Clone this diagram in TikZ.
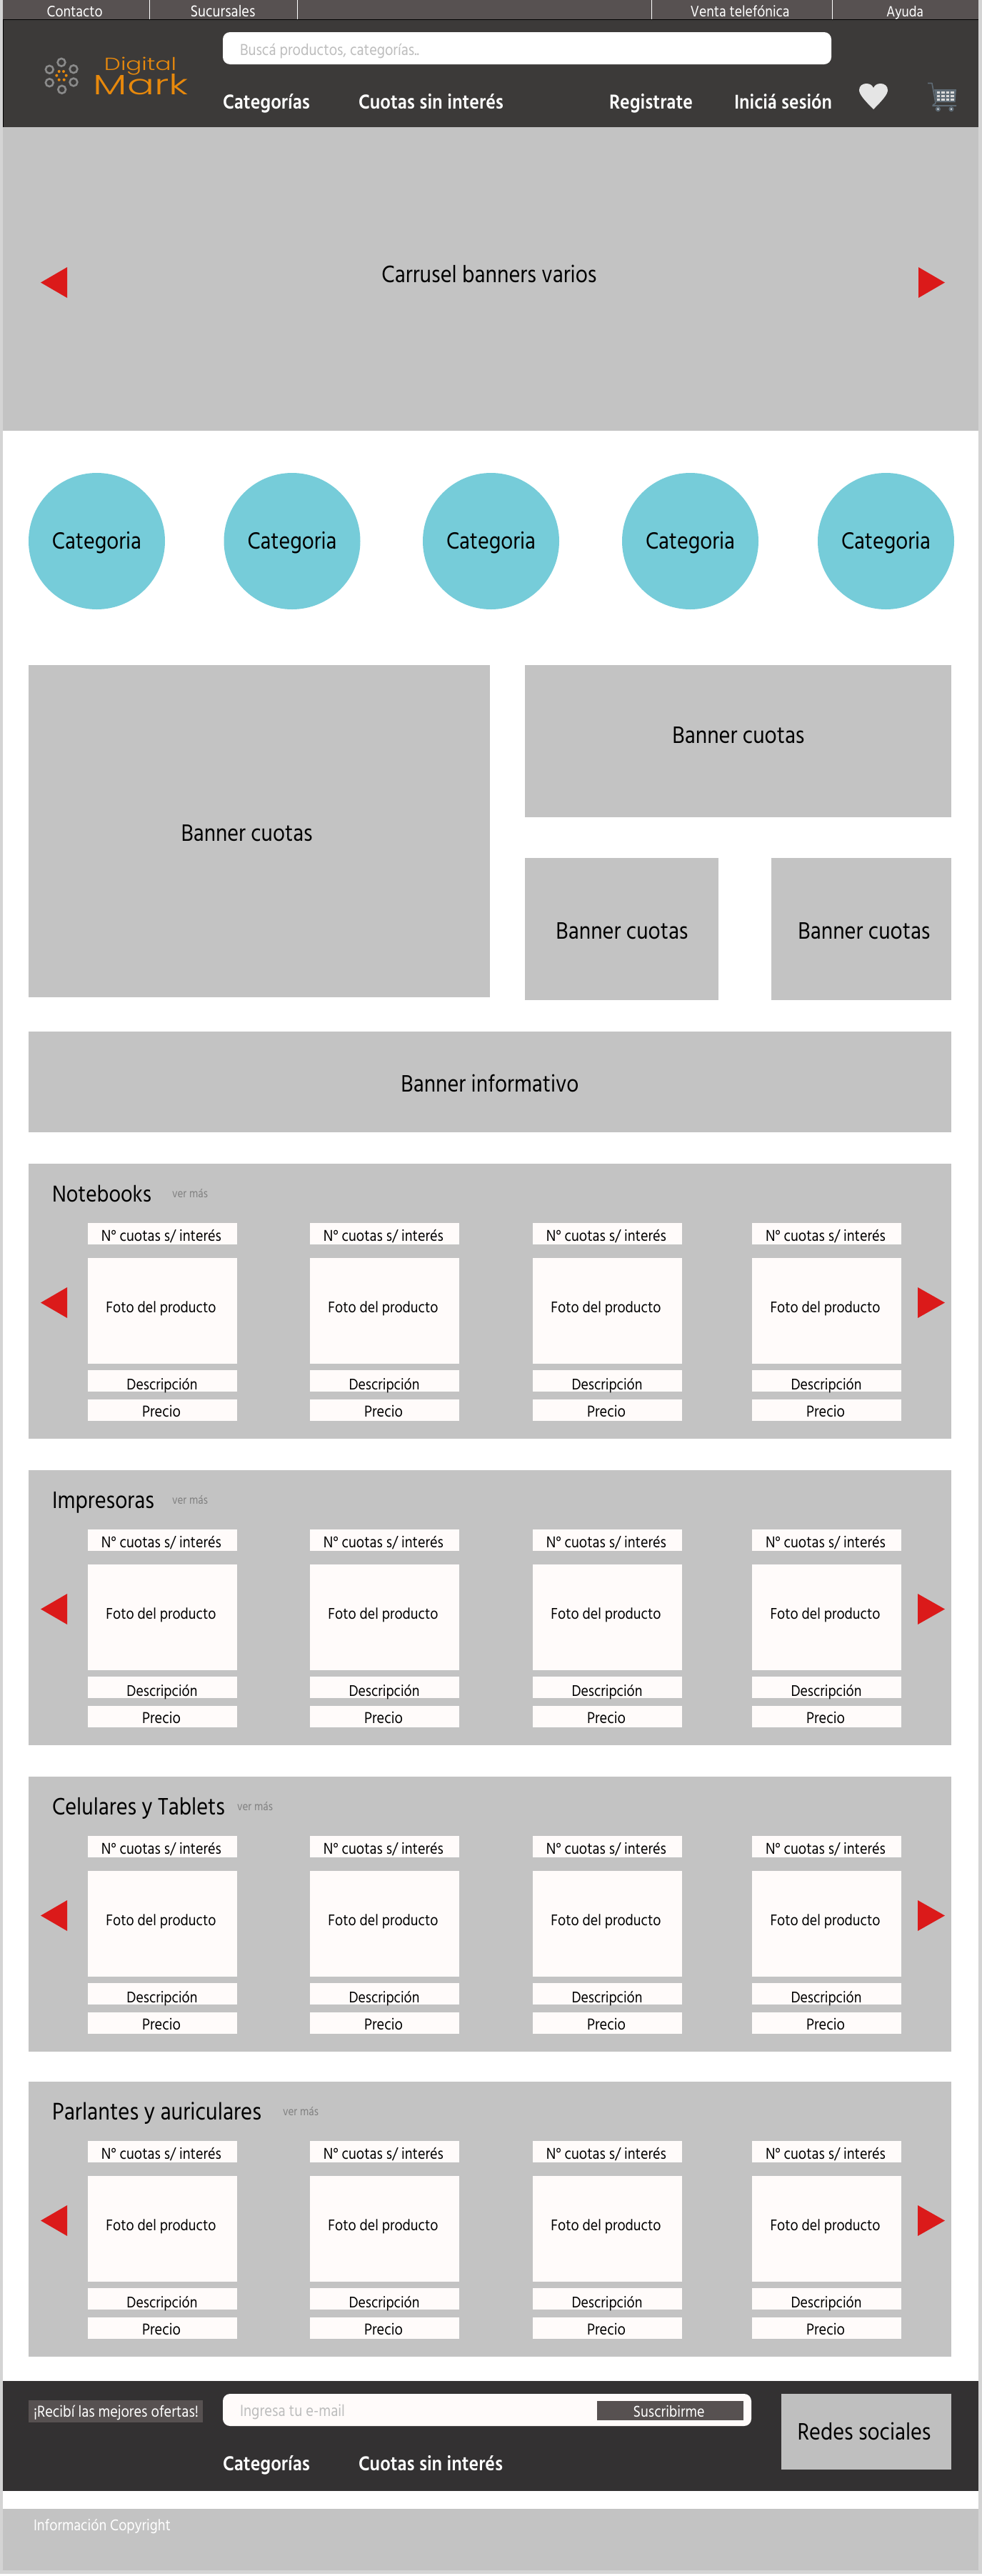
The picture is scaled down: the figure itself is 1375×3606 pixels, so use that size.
\documentclass[tikz,border=0pt]{standalone}
\usepackage{fontspec}
\usepackage{graphicx}
\setmainfont{Hind Madurai}[BoldFont={Hind Madurai SemiBold}]
\newfontfamily\logofont{Poppins Light}
\definecolor{topbar}{HTML}{575151}
\definecolor{head}{HTML}{3C3A39}
\definecolor{foot}{HTML}{333132}
\definecolor{panel}{HTML}{C3C3C3}
\definecolor{card}{HTML}{FFFBFA}
\definecolor{arrowred}{HTML}{DB1A1A}
\definecolor{circ}{HTML}{76CCD9}
\definecolor{orange}{HTML}{E8890C}
\definecolor{ringgray}{HTML}{8A8A8A}
\definecolor{hint}{HTML}{BDBDBD}
\definecolor{cartc}{HTML}{5F6B75}
\definecolor{edge}{HTML}{D4D4D4}
\newcommand{\fit}[2]{\scalebox{1}[1.12]{\resizebox{#1pt}{!}{#2}}}
\tikzset{
  lbl/.style={anchor=base,inner sep=0pt,outer sep=0pt,text=black,yshift=-2pt},
  lblw/.style={anchor=base west,inner sep=0pt,outer sep=0pt,text=black,yshift=-2pt},
  wht/.style={lbl,text=white},
  whtw/.style={lblw,text=white},
  logotxt/.style={anchor=base,inner sep=0pt,outer sep=0pt,text=orange},
  ring/.style={draw=ringgray,line width=2.6pt,fill=none},
  dot/.style={fill=orange},
  redarrow/.style={fill=arrowred},
}
\begin{document}
\begin{tikzpicture}[x=1pt,y=-1pt]
\useasboundingbox (0,0) rectangle (1375,3606);
% page
\fill[edge] (0,0) rectangle (1375,3606);
\fill[white] (4,0) rectangle (1370,3598);
\fill[white] (0,3603) rectangle (1375,3606);
% top bar
\fill[topbar] (4,0) rectangle (1370,27);
\fill[head] (4,27) rectangle (1370,178);
\draw[black,line width=0.8pt] (4,27.4) -- (1370,27.4);
\draw[black,line width=0.6pt] (4.3,27) -- (4.3,178);
\foreach \x in {209,416,912,1165} \draw[white,line width=0.8pt] (\x,0) -- (\x,27);
\node[wht] (contacto) at (104.7,21) {\fit{78}{Contacto}};
\node[wht] (sucursales) at (312,21) {\fit{91}{Sucursales}};
\node[wht] (venta) at (1036,21) {\fit{139}{Venta telefónica}};
\node[wht] (ayuda) at (1267,21) {\fit{52}{Ayuda}};
% logo
\foreach \x/\y in {86/87.3,69.3/97.3,103/96.7,69.3/115.7,103/115,86.7/125.3}
  \draw[ring] (\x,\y) circle (5.4);
\foreach \x/\y in {82.7/100,89/100,79.3/105.7,92.7/105.7,82.7/111.7,89.7/111.7}
  \fill[dot] (\x,\y) circle (2);
\node[logotxt] (digital) at (196.5,98) {\logofont\resizebox{101pt}{18.5pt}{Digital}};
\node[logotxt] (mark) at (197.5,132) {\logofont\resizebox{133pt}{29pt}{Mark}};
% search
\fill[white,rounded corners=10pt] (312,45) rectangle (1164,90);
\node[lblw,text=hint] (busca) at (336,75) {\fit{251}{Buscá productos, categorías..}};
% nav
\node[whtw] (navcat) at (312,150.7) {\fit{122}{\bfseries Categorías}};
\node[whtw] (navcuo) at (502,150.7) {\fit{203}{\bfseries Cuotas sin interés}};
\node[whtw] (navreg) at (853,150.7) {\fit{117}{\bfseries Registrate}};
\node[whtw] (navini) at (1028,150.7) {\fit{137}{\bfseries Iniciá sesión}};
% heart
\fill[white!90!black] (1223,153) .. controls (1210,140) and (1203,132) .. (1203,126)
  .. controls (1203,120) and (1208,117) .. (1213,117)
  .. controls (1218,117) and (1221,119) .. (1223,123)
  .. controls (1225,119) and (1228,117) .. (1233,117)
  .. controls (1238,117) and (1243,120) .. (1243,126)
  .. controls (1243,132) and (1236,140) .. (1223,153) -- cycle;
% cart
\fill[cartc] (1308,125) -- (1339,125) -- (1337.5,143) -- (1311,143) -- cycle;
\foreach \r in {0,1,2} \foreach \c in {0,1,2,3}
  \fill[white!85!black] ({1311.5+\c*6.5},{127.5+\r*5}) rectangle ++(4.6,3);
\draw[cartc,line width=1.6pt,line join=round] (1299,116.5) -- (1305,116.5) -- (1310,144)
  .. controls (1310,146) and (1306,146) .. (1306,148) -- (1339,148);
\fill[cartc] (1313.4,152.7) circle (3.6) (1332,152.7) circle (3.6);
\fill[white] (1313.4,152.7) circle (1.2) (1332,152.7) circle (1.2);
% hero
\fill[panel] (4,178) rectangle (1370,603);
\node[lbl] (carrusel) at (685,393) {\fit{301}{Carrusel banners varios}};
\fill[redarrow] (94,374) -- (94,417) -- (57,395.5) -- cycle;
\fill[redarrow] (1286,374) -- (1286,417) -- (1323,395.5) -- cycle;
% categories
\foreach \i/\x in {1/135.5,2/409,3/687.5,4/966.5,5/1240.5}{
  \fill[circ] (\x,757.5) circle (95.5);
  \node[lbl] (cat\i) at (\x,766) {\fit{125}{Categoria}};
}
% banners
\fill[panel] (40,931) rectangle (686,1396);
\node[lbl] (b1) at (345.6,1175) {\fit{184}{Banner cuotas}};
\fill[panel] (735,931) rectangle (1332,1144);
\node[lbl] (b2) at (1034,1038.6) {\fit{185}{Banner cuotas}};
\fill[panel] (735,1201) rectangle (1006,1400);
\node[lbl] (b3) at (871,1312) {\fit{185}{Banner cuotas}};
\fill[panel] (1080,1201) rectangle (1332,1400);
\node[lbl] (b4) at (1210,1312) {\fit{185}{Banner cuotas}};
\fill[panel] (40,1444) rectangle (1332,1585);
\node[lbl] (info) at (686,1526) {\fit{249}{Banner informativo}};
% product sections
\foreach \s/\T/\name/\tw/\vx in {1/1629/Notebooks/139/241,2/2058/Impresoras/143/241,3/2487/Celulares y Tablets/242/332,4/2914/Parlantes y auriculares/293/396}{
  \fill[panel] (40,\T) rectangle (1332,\T+385);
  \node[lblw] (title\s) at (73,\T+51) {\fit{\tw}{\name}};
  \node[lblw,text=black!50] (ver\s) at (\vx,\T+45) {\fit{50}{ver más}};
  \fill[redarrow] (94,\T+173) -- (94,\T+216) -- (57,\T+194.5) -- cycle;
  \fill[redarrow] (1285,\T+173) -- (1285,\T+216) -- (1323,\T+194.5) -- cycle;
  \foreach \c/\x in {1/123,2/434,3/746,4/1053}{
    \fill[card] (\x,\T+83) rectangle (\x+209,\T+113);
    \fill[card] (\x,\T+132) rectangle (\x+209,\T+280);
    \fill[card] (\x,\T+289) rectangle (\x+209,\T+319);
    \fill[card] (\x,\T+330) rectangle (\x+209,\T+360);
    \node[lbl] (n\s\c) at (\x+103,\T+106) {\fit{168}{N° cuotas s/ interés}};
    \node[lbl] (f\s\c) at (\x+102.5,\T+206) {\fit{154}{Foto del producto}};
    \node[lbl] (d\s\c) at (\x+104,\T+314) {\fit{99}{Descripción}};
    \node[lbl] (p\s\c) at (\x+103,\T+352.7) {\fit{54}{Precio}};
  }
}
% footer
\fill[foot] (4,3333) rectangle (1370,3487);
\fill[topbar] (40,3360) rectangle (284,3391);
\node[wht] (ofertas) at (162.5,3381.7) {\fit{231}{¡Recibí las mejores ofertas!}};
\fill[card,rounded corners=10pt] (312,3351) rectangle (1052,3396);
\node[lblw,text=hint] (email) at (336,3380.7) {\fit{147}{Ingresa tu e-mail}};
\fill[topbar] (836,3361) rectangle (1041,3388);
\node[wht] (suscr) at (936.6,3381.7) {\fit{100}{Suscribirme}};
\fill[black!25] (1094,3351) rectangle (1332,3457);
\node[lbl] (redes) at (1210,3413) {\fit{187}{Redes sociales}};
\node[whtw] (fcat) at (312,3456.7) {\fit{122}{\bfseries Categorías}};
\node[whtw] (fcuo) at (502,3456.7) {\fit{202}{\bfseries Cuotas sin interés}};
\fill[panel] (4,3512) rectangle (1370,3598);
\node[whtw] (copy) at (47,3540.7) {\fit{192}{Información Copyright}};
\end{tikzpicture}
\end{document}
